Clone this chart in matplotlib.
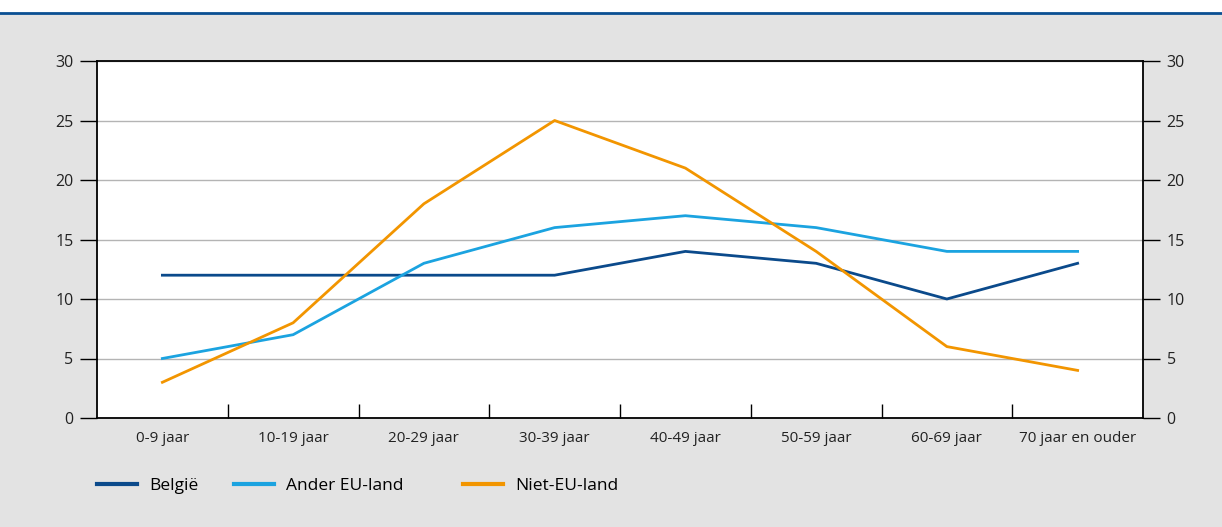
import numpy as np
import matplotlib.pyplot as plt
from matplotlib.patches import Rectangle
from matplotlib.lines import Line2D

#----------------------#
# Data                 #
#----------------------#

categories = ["0-9 jaar", "10-19 jaar", "20-29 jaar", "30-39 jaar",
              "40-49 jaar", "50-59 jaar", "60-69 jaar", "70 jaar en ouder"]
belgie = [12, 12, 12, 12, 14, 13, 10, 13]
ander_eu = [5, 7, 13, 16, 17, 16, 14, 14]
niet_eu = [3, 8, 18, 25, 21, 14, 6, 4]
yticks = [0, 5, 10, 15, 20, 25, 30]

plt.rcParams['font.family'] = ['Open Sans', 'DejaVu Sans']

W, H = 1222, 527
fig = plt.figure(figsize=(W / 100, H / 100), dpi=100)
fig.patch.set_facecolor("white")

# gray panel + blue top rule
fig.add_artist(Rectangle((0, 0), 1, 1 - 13 / H, transform=fig.transFigure,
                         facecolor="#e3e3e3", edgecolor="none", zorder=0))
fig.add_artist(Line2D([0, 1], [1 - 13 / H, 1 - 13 / H], transform=fig.transFigure,
                      color="#0a4f93", lw=2, zorder=1))

left, right, top, bottom = 97, 1143, 61, 418
ax = fig.add_axes([left / W, 1 - bottom / H, (right - left) / W, (bottom - top) / H])
ax.set_facecolor("white")

x = np.arange(len(categories))
l1, = ax.plot(x, belgie, color="#0b4a8b", lw=2, label="België", zorder=3)
l2, = ax.plot(x, ander_eu, color="#1ba3e0", lw=2, label="Ander EU-land", zorder=3)
l3, = ax.plot(x, niet_eu, color="#f29500", lw=2, label="Niet-EU-land", zorder=3)

ax.set_xlim(-0.5, len(categories) - 0.5)
ax.set_ylim(0, 30)
ax.set_yticks(yticks)
ax.grid(axis="y", color="#b4b4b4", lw=1, zorder=1)
ax.set_axisbelow(True)

# category ticks on boundaries, labels in centre
ax.set_xticks(np.arange(len(categories) - 1) + 0.5)
ax.set_xticklabels([])
ax.set_xticks(x, minor=True)
ax.set_xticklabels(categories, minor=True, fontsize=11, color="#222222")
ax.tick_params(axis="x", which="major", direction="in", length=10, width=1, color="black")
ax.tick_params(axis="x", which="minor", length=0, pad=9)
ax.tick_params(axis="y", direction="out", length=12, width=1, labelsize=11.5,
               labelcolor="#222222", left=True, right=True, labelleft=True, labelright=True,
               pad=5)

for s in ax.spines.values():
    s.set_color("black")
    s.set_linewidth(1.3)

# legend entries placed one by one (uneven spacing in the original)
for handle, xpos in [(l1, 97), (l2, 234), (l3, 463)]:
    leg = fig.legend(handles=[handle], loc="center left",
                     bbox_to_anchor=(xpos / W, 1 - 486 / H), frameon=False,
                     fontsize=12.5, handlelength=2.3, handletextpad=0.7,
                     borderpad=0, borderaxespad=0)
    for ln in leg.get_lines():
        ln.set_linewidth(3)

fig.savefig("out.png", dpi=100, facecolor=fig.get_facecolor())
